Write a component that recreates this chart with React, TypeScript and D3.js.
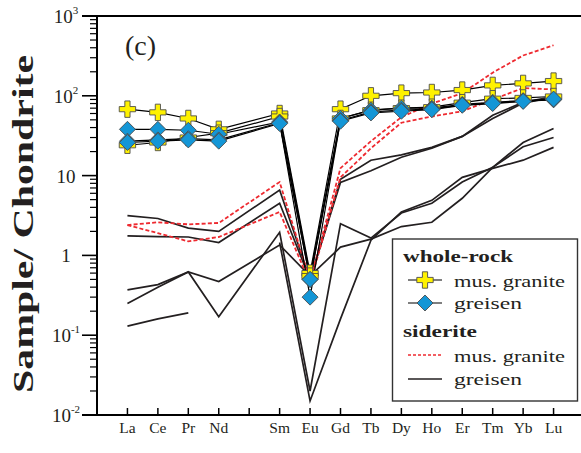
import React from 'react';
import * as d3 from 'd3';

const W = 581;
const H = 453;

// REE slots (Pm is a gap on the axis but gets a tick)
const slots = ['La', 'Ce', 'Pr', 'Nd', 'Pm', 'Sm', 'Eu', 'Gd', 'Tb', 'Dy', 'Ho', 'Er', 'Tm', 'Yb', 'Lu'];
const elements = ['La', 'Ce', 'Pr', 'Nd', 'Sm', 'Eu', 'Gd', 'Tb', 'Dy', 'Ho', 'Er', 'Tm', 'Yb', 'Lu'];

// whole-rock, mus. granite
const wrGranite1 = [68, 62, 52, 38, 60, 0.6, 68, 100, 108, 110, 118, 135, 143, 153];
const wrGranite2 = [24, 26, 30, 34, 55, 0.55, 52, 66, 70, 72, 82, 92, 94, 98];

// whole-rock, greisen
const wrGreisen1 = [38, 38, 37, 33, 47, 0.5, 52, 66, 70, 70, 78, 83, 87, 90];
const wrGreisen2 = [27, 28, 29, 28, 46, 0.3, 49, 63, 66, 68, 77, 81, 86, 89];
const wrGreisen3 = [26, 27, 28, 27, 45, 0.5, 48, 61, 64, 67, 76, 80, 85, 91];

// siderite, mus. granite
const sdGranite1 = [2.4, 2.6, 2.45, 2.55, 8.3, 0.48, 12.4, 27, 54, 80, 108, 195, 320, 430];
const sdGranite2 = [2.4, 1.9, 1.5, 1.7, 3.5, 0.45, 9.5, 22, 46, 55, 64, 90, 125, 120];

// siderite, greisen
const sdGreisen1 = [3.15, 2.9, 2.2, 2.0, 6.6, 0.5, 9, 15.6, 18.2, 22.6, 31, 57, 83, 98];
const sdGreisen2 = [1.76, 1.72, 1.7, 1.45, 4.5, 0.5, 8.2, 11.5, 17, 22, 31, 52, 81, 96];
const sdGreisen3 = [0.25, 0.4, 0.62, 0.17, 1.95, 0.02, 2.5, 1.65, 3.4, 4.5, 8.3, 12.7, 26, 39];
const sdGreisen4 = [0.37, 0.43, 0.62, 0.47, 1.35, 0.55, 1.27, 1.6, 2.3, 2.6, 5.2, 12.7, 23, 30];
const sdGreisen5 = [0.13, 0.16, 0.19, null, 1.45, 0.015, 0.16, 1.55, 3.5, 4.9, 9.5, 12.3, 15.6, 22.6];

const yMajor = [0.01, 0.1, 1, 10, 100, 1000];
const yExp = ['-2', '-1', '', '', '2', '3'];

const x = d3.scalePoint<string>().domain(slots).range([97, 584]).padding(1);
const y = d3.scaleLog().domain([0.01, 1000]).range([415, 16]);

const line = d3
  .line<number | null>()
  .defined((d) => d != null)
  .x((_, i) => x(elements[i]) as number)
  .y((d) => y(d as number));

const crossPath = (() => {
  const a = 2.6, r = 8.2;
  return `M${-a},${-r}H${a}V${-a}H${r}V${a}H${a}V${r}H${-a}V${a}H${-r}V${-a}H${-a}Z`;
})();
const diamondPath = 'M0,-8L8,0L0,8L-8,0Z';

const FONT = "'Liberation Serif', 'Times New Roman', Tinos, 'Nimbus Roman', FreeSerif, 'DejaVu Serif', serif";
const RED = '#ee2a30';
const DARK = '#231f20';
const YELLOW = '#fff200';
const BLUE = '#1496d6';

function Markers({ data, path, fill }: { data: (number | null)[]; path: string; fill: string }) {
  return (
    <g>
      {data.map((d, i) =>
        d == null ? null : (
          <path
            key={i}
            d={path}
            transform={`translate(${x(elements[i])},${y(d)})`}
            fill={fill}
            stroke="#4d4d4d"
            strokeWidth={0.9}
          />
        )
      )}
    </g>
  );
}

export default function App() {
  const minor: number[] = [];
  for (let e = -2; e < 3; e++) for (let k = 2; k <= 9; k++) minor.push(k * Math.pow(10, e));

  const sdGreisen = [sdGreisen1, sdGreisen2, sdGreisen3, sdGreisen4, sdGreisen5];
  const sdGranite = [sdGranite1, sdGranite2];
  const wrGranite = [wrGranite1, wrGranite2];
  const wrGreisen = [wrGreisen1, wrGreisen2, wrGreisen3];
  const tf = { fontFamily: FONT };

  return (
    <svg width={W} height={H} style={{ position: 'absolute', left: 0, top: 0, background: '#fff', fontFamily: FONT }}>
      {/* siderite lines */}
      {sdGreisen.map((s, i) => (
        <path key={'g' + i} d={line(s) || ''} fill="none" stroke={DARK} strokeWidth={1.7} />
      ))}
      {sdGranite.map((s, i) => (
        <path key={'r' + i} d={line(s) || ''} fill="none" stroke={RED} strokeWidth={1.8} strokeDasharray="4,2.2" />
      ))}

      {/* whole-rock lines */}
      {[...wrGranite, ...wrGreisen].map((s, i) => (
        <path key={'w' + i} d={line(s) || ''} fill="none" stroke="#000" strokeWidth={1.2} />
      ))}
      {wrGranite.map((s, i) => (
        <Markers key={'c' + i} data={s} path={crossPath} fill={YELLOW} />
      ))}
      {wrGreisen.map((s, i) => (
        <Markers key={'d' + i} data={s} path={diamondPath} fill={BLUE} />
      ))}

      {/* axes */}
      <line x1={97} x2={97} y1={16} y2={415} stroke="#000" strokeWidth={2} />
      <line x1={82} x2={581} y1={16} y2={16} stroke="#000" strokeWidth={1.8} />
      <line x1={82} x2={581} y1={415} y2={415} stroke="#000" strokeWidth={1.8} />
      {yMajor.map((v) => (
        <line key={'M' + v} x1={82} x2={97} y1={y(v)} y2={y(v)} stroke="#000" strokeWidth={1.6} />
      ))}
      {minor.map((v) => (
        <line key={'m' + v} x1={90} x2={97} y1={y(v)} y2={y(v)} stroke="#000" strokeWidth={1.2} />
      ))}
      {yMajor.map((v, i) => (
        <text key={'t' + v} x={66} y={y(v) + 7} fontSize={19} textAnchor="middle" fill="#231f20" style={tf}>
          {v === 1 ? '1' : '10'}
          {yExp[i] && (
            <tspan fontSize={11} dy={-9}>
              {yExp[i]}
            </tspan>
          )}
        </text>
      ))}

      {slots.map((s) => (
        <line key={'x' + s} x1={x(s)} x2={x(s)} y1={408} y2={415} stroke="#000" strokeWidth={1.5} />
      ))}
      {slots
        .filter((s) => s !== 'Pm')
        .map((s) => (
          <text key={'l' + s} x={x(s)} y={433} fontSize={15.5} textAnchor="middle" fill="#231f20" style={tf}>
            {s}
          </text>
        ))}

      <text
        transform="translate(33,224) rotate(-90)"
        fontSize={29}
        fontWeight="bold"
        textAnchor="middle"
        textLength={338}
        lengthAdjust="spacingAndGlyphs"
        fill="#231f20"
        style={tf}
      >
        Sample/ Chondrite
      </text>

      <text x={125} y={55} fontSize={28} fill="#231f20" style={tf}>
        (c)
      </text>

      {/* legend */}
      <g fill="#231f20">
        <rect x={392.5} y={239} width={185} height={162} fill="#fff" stroke="#333" strokeWidth={1.4} />
        <text x={403} y={262} fontSize={17.5} fontWeight="bold" textLength={110} lengthAdjust="spacingAndGlyphs" style={tf}>
          whole-rock
        </text>
        <line x1={408} x2={442} y1={280} y2={280} stroke="#000" strokeWidth={1.2} />
        <path d={crossPath} transform="translate(425,280)" fill={YELLOW} stroke="#4d4d4d" strokeWidth={0.9} />
        <text x={454} y={287} fontSize={17} textLength={111} lengthAdjust="spacingAndGlyphs" style={tf}>
          mus. granite
        </text>
        <line x1={408} x2={442} y1={303} y2={303} stroke="#000" strokeWidth={1.2} />
        <path d={diamondPath} transform="translate(425,303)" fill={BLUE} stroke="#4d4d4d" strokeWidth={0.9} />
        <text x={454} y={309} fontSize={17} textLength={68} lengthAdjust="spacingAndGlyphs" style={tf}>
          greisen
        </text>
        <text x={403} y={337} fontSize={17.5} fontWeight="bold" textLength={74} lengthAdjust="spacingAndGlyphs" style={tf}>
          siderite
        </text>
        <line x1={408} x2={442} y1={355} y2={355} stroke={RED} strokeWidth={1.6} strokeDasharray="3,2" />
        <text x={454} y={362} fontSize={17} textLength={111} lengthAdjust="spacingAndGlyphs" style={tf}>
          mus. granite
        </text>
        <line x1={408} x2={442} y1={379} y2={379} stroke={DARK} strokeWidth={1.7} />
        <text x={454} y={385} fontSize={17} textLength={68} lengthAdjust="spacingAndGlyphs" style={tf}>
          greisen
        </text>
      </g>
    </svg>
  );
}
